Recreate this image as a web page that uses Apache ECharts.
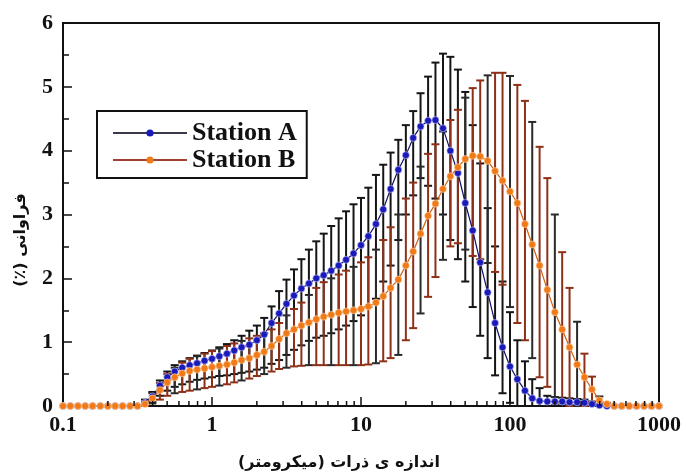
<!DOCTYPE html>
<html>
<head>
<meta charset="utf-8">
<script src="https://cdn.jsdelivr.net/npm/echarts@6/dist/echarts.min.js"></script>
<style>
html,body{margin:0;padding:0;background:#fff;}
#chart{width:686px;height:476px;}
</style>
</head>
<body>
<div id="chart"></div>
<script>
// Particle size classes (micrometre), log-spaced bins
const sizes = [0.1,0.112,0.126,0.141,0.158,0.178,0.2,0.224,0.251,0.282,
0.316,0.355,0.398,0.447,0.501,0.562,0.631,0.708,0.794,0.891,
1,1.12,1.26,1.41,1.58,1.78,2,2.24,2.51,2.82,
3.16,3.55,3.98,4.47,5.01,5.62,6.31,7.08,7.94,8.91,
10,11.2,12.6,14.1,15.8,17.8,20,22.4,25.1,28.2,
31.6,35.5,39.8,44.7,50.1,56.2,63.1,70.8,79.4,89.1,
100,112,126,141,158,178,200,224,251,282,
316,355,398,447,501,562,631,708,794,891,1000];

// Station A: mean frequency (%), upper and lower error-bar ends
const stationA = [0,0,0,0,0,0,0,0,0,0,0,
0.05,0.15,0.32,0.45,0.54,0.6,0.64,0.67,0.71,0.74,
0.78,0.82,0.87,0.92,0.96,1.03,1.12,1.3,1.45,1.6,
1.73,1.84,1.92,2.0,2.05,2.12,2.2,2.29,2.39,2.52,
2.66,2.85,3.08,3.4,3.7,3.93,4.2,4.38,4.47,4.48,
4.35,4.0,3.65,3.18,2.75,2.25,1.78,1.3,0.92,0.62,
0.42,0.24,0.12,0.08,0.07,0.07,0.07,0.06,0.06,0.05,
0.03,0.01,0,0,0,0,0,0,0,0];
const stationAHigh = [0,0,0,0,0,0,0,0,0,0,0,
0.1,0.22,0.4,0.54,0.64,0.7,0.75,0.79,0.83,0.87,
0.92,0.97,1.03,1.1,1.18,1.26,1.38,1.56,1.8,1.98,
2.14,2.3,2.45,2.58,2.7,2.82,2.94,3.05,3.16,3.26,
3.42,3.62,3.78,3.97,4.17,4.4,4.62,4.9,5.16,5.38,
5.52,5.47,5.27,4.92,4.4,3.8,3.1,2.5,1.95,1.47,
1.03,0.7,0.42,0.28,0.16,0.14,0.13,0.12,0.11,0.1,
0.07,0.03,0,0,0,0,0,0,0,0];
const stationALow = [0,0,0,0,0,0,0,0,0,0,0,
0,0.06,0.16,0.24,0.3,0.34,0.38,0.41,0.43,0.45,
0.47,0.48,0.5,0.52,0.54,0.57,0.6,0.66,0.72,0.8,
0.88,0.95,1.02,1.07,1.1,1.14,1.2,1.26,1.33,1.42,
1.55,1.68,1.95,2.2,2.6,3.0,3.3,3.57,3.45,3.25,
3.0,2.6,2.3,1.95,1.55,1.1,0.75,0.48,0.2,0.05,
0,0,0,0,0,0.01,0.01,0.01,0.01,0.01,
0,0,0,0,0,0,0,0,0,0];

// Station B
const stationB = [0,0,0,0,0,0,0,0,0,0,0,
0.03,0.12,0.25,0.37,0.45,0.51,0.55,0.57,0.59,0.61,
0.63,0.65,0.68,0.72,0.75,0.8,0.85,0.94,1.05,1.14,
1.2,1.26,1.31,1.36,1.4,1.43,1.46,1.48,1.5,1.52,
1.56,1.62,1.72,1.85,1.98,2.2,2.42,2.7,2.98,3.17,
3.4,3.6,3.74,3.87,3.92,3.91,3.84,3.68,3.53,3.36,
3.18,2.85,2.53,2.2,1.82,1.47,1.2,0.92,0.65,0.45,
0.26,0.09,0.03,0,0,0,0,0,0,0];
const stationBHigh = [0,0,0,0,0,0,0,0,0,0,0,
0.06,0.2,0.36,0.5,0.6,0.68,0.74,0.78,0.82,0.86,
0.9,0.94,0.98,1.02,1.06,1.1,1.14,1.2,1.3,1.42,
1.52,1.62,1.74,1.85,1.94,2.0,2.06,2.12,2.18,2.25,
2.33,2.45,2.6,2.8,3.0,3.25,3.5,3.75,3.95,4.1,
4.3,4.48,4.64,4.83,4.98,5.1,5.18,5.22,5.22,5.17,
5.03,4.78,4.45,4.06,3.57,3.0,2.41,1.85,1.32,0.82,
0.46,0.15,0.05,0,0,0,0,0,0,0];
const stationBLow = [0,0,0,0,0,0,0,0,0,0,0,
0,0.04,0.1,0.16,0.2,0.22,0.24,0.26,0.28,0.3,
0.32,0.34,0.37,0.4,0.43,0.47,0.5,0.54,0.58,0.6,
0.62,0.63,0.64,0.64,0.64,0.64,0.64,0.64,0.64,0.64,
0.65,0.67,0.7,0.75,0.8,1.03,1.22,1.45,1.71,2.02,
2.29,2.5,2.55,2.45,2.35,2.3,2.24,2.1,1.9,1.55,
1.3,1.03,0.75,0.45,0.3,0.14,0.05,0,0,0,
0.06,0.03,0,0,0,0,0,0,0,0];

const xTickLabels = ['0.1','1','10','100','1000'];
const seriesNames = ['Station A','Station B'];
const xTitle = 'اندازه ی ذرات (میکرومتر)\u200F';
const yTitle = 'فراوانی (٪)\u200F';

// log minor tick positions (axis decoration)
const minorTicks = [];
[0.1,1,10,100].forEach(d => { for (let m = 2; m <= 9; m++) minorTicks.push([+(d*m).toPrecision(3), 0]); });

function errData(lo, hi) {
  const out = [];
  sizes.forEach((x, i) => { if (hi[i] - lo[i] > 0.02) out.push([x, lo[i], hi[i], i]); });
  return out;
}
function errRender(colorMain, colorAlt) {
  return function (params, api) {
    const x = api.value(0), lo = api.value(1), hi = api.value(2), idx = api.value(3);
    const pHi = api.coord([x, hi]), pLo = api.coord([x, lo]);
    const c = (colorAlt && idx % 3 === 0) ? colorAlt : colorMain;
    const w = 4;
    const st = { stroke: c, lineWidth: 2 };
    return { type: 'group', children: [
      { type: 'line', shape: { x1: pLo[0], y1: pLo[1], x2: pHi[0], y2: pHi[1] }, style: st },
      { type: 'line', shape: { x1: pHi[0]-w, y1: pHi[1], x2: pHi[0]+w, y2: pHi[1] }, style: st },
      { type: 'line', shape: { x1: pLo[0]-w, y1: pLo[1], x2: pLo[0]+w, y2: pLo[1] }, style: st }
    ]};
  };
}

const serif = '"Liberation Serif", "DejaVu Serif", serif';
const chart = echarts.init(document.getElementById('chart'), null, { renderer: 'canvas' });
chart.setOption({
  animation: false,
  backgroundColor: '#fff',
  grid: { left: 63, right: 27, top: 23, bottom: 70, show: true, borderColor: '#111', borderWidth: 2, backgroundColor: 'transparent', outerBoundsMode: 'none' },
  xAxis: {
    type: 'log', logBase: 10, min: 0.1, max: 1000,
    axisLine: { show: true, lineStyle: { color: '#111', width: 2 } },
    axisTick: { show: true, inside: true, length: 9, lineStyle: { color: '#111', width: 1.5 } },
    minorTick: { show: false },
    splitLine: { show: false },
    axisLabel: { color: '#111', fontFamily: serif, fontWeight: 'bold', fontSize: 22, margin: 8,
      formatter: function (v) { const i = Math.round(Math.log10(v)) + 1; return xTickLabels[i] !== undefined ? xTickLabels[i] : ''; } }
  },
  yAxis: {
    type: 'value', min: 0, max: 6, interval: 1,
    axisLine: { show: true, lineStyle: { color: '#111', width: 2 } },
    axisTick: { show: true, inside: true, length: 9, lineStyle: { color: '#111', width: 1.5 } },
    minorTick: { show: true, splitNumber: 2, length: 6, lineStyle: { color: '#111', width: 1.5 } },
    splitLine: { show: false },
    axisLabel: { color: '#111', fontFamily: serif, fontWeight: 'bold', fontSize: 22, margin: 10 }
  },
  legend: {
    left: 97, top: 111, orient: 'vertical',
    backgroundColor: '#fff', borderColor: '#111', borderWidth: 2,
    padding: [9, 10, 5, 15], itemGap: 1, itemWidth: 74, itemHeight: 9,
    textStyle: { fontFamily: serif, fontWeight: 'bold', fontSize: 26, color: '#111', lineHeight: 22 },
    data: [
      { name: seriesNames[0], itemStyle: { color: '#1a1ab8', borderWidth: 0 }, lineStyle: { color: '#3a3a4a', width: 2 } },
      { name: seriesNames[1], itemStyle: { color: '#f07a18', borderWidth: 0 }, lineStyle: { color: '#a04030', width: 2 } }
    ]
  },
  graphic: [
    { type: 'text', x: 339, y: 463, style: { text: xTitle, fontFamily: '"DejaVu Sans", sans-serif', fontWeight: 'bold', fontSize: 16, fill: '#111', align: 'center', verticalAlign: 'middle' } },
    { type: 'text', x: 21, y: 240, rotation: Math.PI / 2, style: { text: yTitle, fontFamily: '"DejaVu Sans", sans-serif', fontWeight: 'bold', fontSize: 16, fill: '#111', align: 'center', verticalAlign: 'middle' } }
  ],
  series: [
    { type: 'custom', name: 'errA', silent: true, z: 2, renderItem: errRender('#151515'),
      encode: { x: 0, y: [1, 2] }, data: errData(stationALow, stationAHigh) },
    { type: 'custom', name: 'errB', silent: true, z: 2, renderItem: errRender('#8e3018', '#2a2a2a'),
      encode: { x: 0, y: [1, 2] }, data: errData(stationBLow, stationBHigh) },
    { type: 'line', name: seriesNames[0], z: 3, symbol: 'circle', symbolSize: 7, showAllSymbol: true,
      itemStyle: { color: '#1a1ab8', borderColor: '#c8c8ff', borderWidth: 0.6 },
      lineStyle: { color: '#10106a', width: 1.2 },
      data: sizes.map((x, i) => [x, stationA[i]]) },
    { type: 'line', name: seriesNames[1], z: 4, symbol: 'circle', symbolSize: 7, showAllSymbol: true,
      itemStyle: { color: '#f07a18', borderColor: '#ffd9b0', borderWidth: 0.6 },
      lineStyle: { color: '#d06010', width: 1.2 },
      data: sizes.map((x, i) => [x, stationB[i]]) },
    { type: 'custom', name: 'minorTicks', silent: true, z: 6,
      renderItem: function (params, api) {
        const p = api.coord([api.value(0), 0]);
        return { type: 'line', shape: { x1: p[0], y1: p[1], x2: p[0], y2: p[1] - 5 }, style: { stroke: '#111', lineWidth: 1.5 } };
      },
      encode: { x: 0, y: 1 }, data: minorTicks }
  ]
});
</script>
</body>
</html>
